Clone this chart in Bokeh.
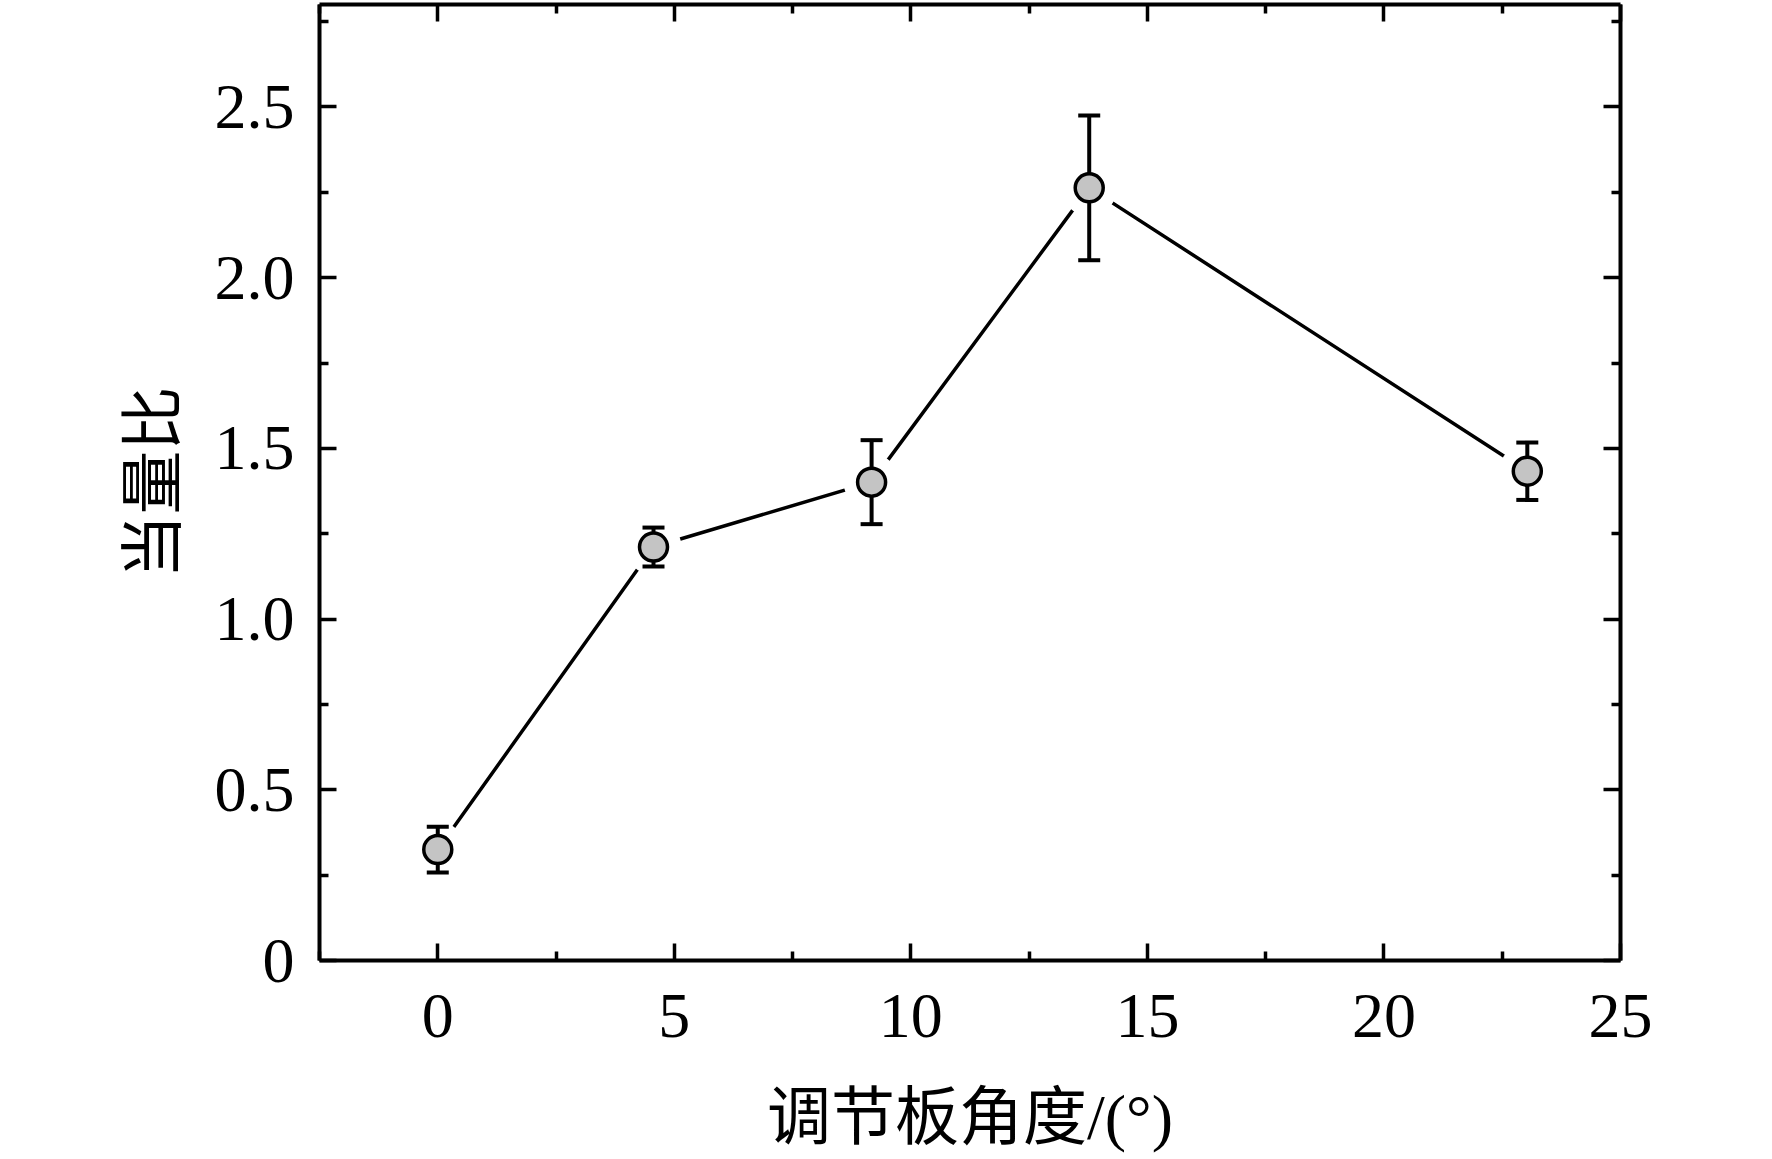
from bokeh.plotting import figure
from bokeh.models import (LinearAxis, FixedTicker, Range1d, ColumnDataSource,
                          PrintfTickFormatter, CustomJSTickFormatter)
from bokeh.embed import file_html
from bokeh.resources import INLINE

# ---- data ----
angle = [0, 4.56, 9.17, 13.77, 23.03]          # 调节板角度 (°)
ratio = [0.325, 1.211, 1.401, 2.263, 1.433]    # 当量比
err = [0.067, 0.057, 0.123, 0.212, 0.084]      # error bar half-length
x_major = [0, 5, 10, 15, 20, 25]
x_minor = [-2.5, 2.5, 7.5, 12.5, 17.5, 22.5]
y_major = [0, 0.5, 1.0, 1.5, 2.0, 2.5]
y_minor = [0.25, 0.75, 1.25, 1.75, 2.25, 2.75]
x_label = "调节板角度/(°)"
y_label = "当量比"

src = ColumnDataSource(dict(
    x=angle, y=ratio,
    lo=[r - e for r, e in zip(ratio, err)],
    hi=[r + e for r, e in zip(ratio, err)],
))

SERIF = "Liberation Serif"
LABEL_FONT = "'Liberation Serif', 'Noto Sans CJK SC'"

p = figure(width=1756, height=1156,
           x_range=Range1d(-2.5, 25), y_range=Range1d(0, 2.8),
           output_backend="svg", toolbar_location=None,
           min_border_left=319, min_border_right=136,
           min_border_top=4, min_border_bottom=196)
p.xgrid.visible = False
p.ygrid.visible = False
p.outline_line_color = None
p.background_fill_color = "white"
p.border_fill_color = "white"

def style(ax, ticks, minor, show_labels):
    ax.ticker = FixedTicker(ticks=ticks, minor_ticks=minor)
    ax.axis_line_width = 4
    ax.axis_line_color = "black"
    ax.major_tick_in = 17
    ax.major_tick_out = 0
    ax.minor_tick_in = 9
    ax.minor_tick_out = 0
    ax.major_tick_line_width = 3.5
    ax.minor_tick_line_width = 3.5
    ax.major_tick_line_color = "black"
    ax.minor_tick_line_color = "black"
    ax.major_label_text_font = SERIF
    ax.major_label_text_color = "black"
    ax.major_label_text_font_size = "64px"
    if not show_labels:
        ax.formatter = CustomJSTickFormatter(code="return ''")
        ax.major_label_standoff = 0

xb = p.xaxis[0]
yl = p.yaxis[0]
style(xb, x_major, x_minor, True)
style(yl, y_major, y_minor, True)
xb.major_label_standoff = 34
yl.major_label_standoff = 25
yl.formatter = PrintfTickFormatter(format="%.1f")
yl.major_label_overrides = {0: "0"}

xb.axis_label = x_label
yl.axis_label = y_label
for ax in (xb, yl):
    ax.axis_label_text_font = LABEL_FONT
    ax.axis_label_text_font_size = "64px"
    ax.axis_label_text_font_style = "normal"
    ax.axis_label_text_color = "black"
xb.axis_label_standoff = 42
yl.axis_label_standoff = 23

xt = LinearAxis()
style(xt, x_major, x_minor, False)
p.add_layout(xt, "above")
yr = LinearAxis()
style(yr, y_major, y_minor, False)
p.add_layout(yr, "right")

# connecting line
p.line("x", "y", source=src, line_color="black", line_width=3.5)
# white halo producing the gap between line and symbol
p.scatter("x", "y", source=src, size=56, fill_color="white", line_color=None)
# error bars
p.segment("x", "lo", "x", "hi", source=src, line_color="black", line_width=4)
p.scatter("x", "lo", source=src, marker="dash", size=22, line_color="black", line_width=4)
p.scatter("x", "hi", source=src, marker="dash", size=22, line_color="black", line_width=4)
# symbols
p.scatter("x", "y", source=src, size=28, fill_color="#c4c4c4",
          line_color="black", line_width=3.5)

open("out.html", "w").write(file_html(p, INLINE))
